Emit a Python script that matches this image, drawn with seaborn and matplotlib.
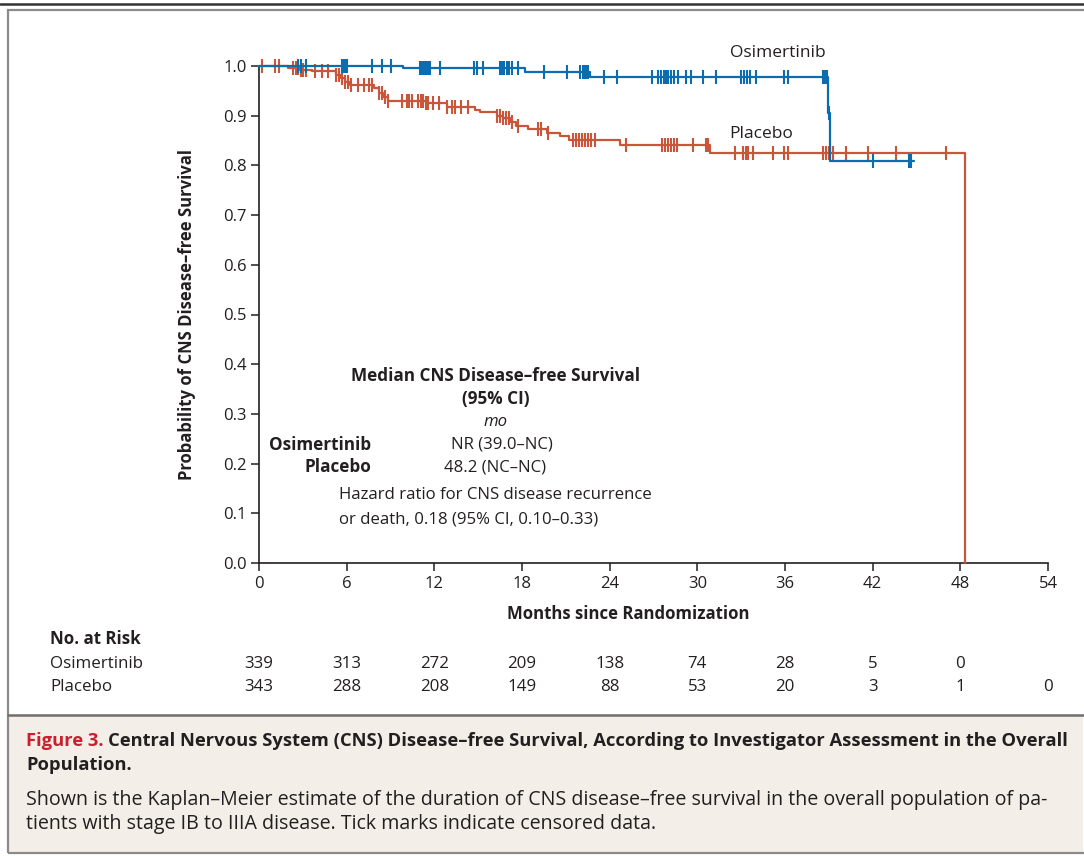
import numpy as np
import pandas as pd
import matplotlib
matplotlib.use("Agg")
import matplotlib.pyplot as plt
from matplotlib.patches import Rectangle
from matplotlib.lines import Line2D
import seaborn as sns

# ---------------- data ----------------
osi_times = [0, 9.85, 18.2, 22.65, 38.95, 39.05, 44.8]
osi_surv = [1.0, 0.996, 0.988, 0.978, 0.905, 0.809, 0.809]
osi_censor = [2.7, 2.9, 3.2, 5.7, 5.8, 5.85, 5.9, 6.0, 7.7, 8.4, 9.0, 11.0, 11.15, 11.3,
              11.45, 11.6, 11.7, 12.4, 14.7, 14.9, 15.3, 16.5, 16.65, 16.8, 16.95, 17.1,
              17.3, 17.7, 19.5, 21.1, 22.0, 22.15, 22.3, 22.45, 22.5, 23.6, 24.5, 26.9,
              27.3, 27.5, 27.7, 27.85, 28.0, 28.2, 28.4, 28.7, 29.2, 29.6, 30.4, 31.3,
              33.0, 33.2, 33.4, 33.6, 34.0, 35.9, 36.2, 38.6, 38.75, 38.9, 39.0, 42.0,
              44.5, 44.6]

pla_times = [0, 2.0, 2.8, 3.6, 5.3, 5.6, 5.9, 6.2, 7.9, 8.2, 8.5, 8.8, 11.4, 12.9, 14.8,
             15.1, 16.3, 16.7, 17.2, 17.6, 18.4, 19.7, 20.6, 21.2, 24.7, 30.9, 48.35]
pla_surv = [1.0, 0.995, 0.992, 0.989, 0.982, 0.975, 0.968, 0.962, 0.955, 0.946, 0.938,
            0.930, 0.925, 0.918, 0.911, 0.907, 0.900, 0.895, 0.888, 0.880, 0.873, 0.866,
            0.860, 0.851, 0.841, 0.824, 0.0]
pla_censor = [0.2, 1.1, 1.4, 2.3, 2.5, 2.7, 2.9, 3.0, 3.2, 3.8, 4.3, 4.7, 5.3, 5.5, 5.7,
              5.9, 6.1, 6.3, 6.8, 7.2, 7.5, 7.7, 8.2, 8.4, 8.6, 8.8, 9.8, 10.1, 10.3, 10.5,
              10.9, 11.1, 11.2, 11.4, 11.6, 11.9, 12.3, 12.9, 13.2, 13.4, 13.8, 14.3, 16.3,
              16.5, 16.7, 16.9, 17.1, 17.3, 17.7, 19.1, 19.3, 19.8, 21.5, 21.7, 21.9, 22.1,
              22.3, 22.5, 22.7, 23.0, 25.1, 27.6, 27.8, 28.0, 28.2, 28.4, 28.6, 29.7, 30.6,
              30.7, 32.6, 33.1, 33.3, 33.5, 33.8, 35.2, 35.9, 36.2, 38.6, 38.8, 39.0, 39.3,
              40.2, 41.7, 43.6, 47.0]

risk_months = [0, 6, 12, 18, 24, 30, 36, 42, 48, 54]
risk_osi = ["339", "313", "272", "209", "138", "74", "28", "5", "0", ""]
risk_pla = ["343", "288", "208", "149", "88", "53", "20", "3", "1", "0"]

x_ticks = [0, 6, 12, 18, 24, 30, 36, 42, 48, 54]
y_ticks = [0.0, 0.1, 0.2, 0.3, 0.4, 0.5, 0.6, 0.7, 0.8, 0.9, 1.0]

BLUE = "#0b6db0"
RED = "#c9553b"
TXT = "#231f20"

# ---------------- style ----------------
sns.set_theme(style="white")
plt.rcParams["font.family"] = ["Open Sans", "DejaVu Sans"]
plt.rcParams["text.color"] = TXT
plt.rcParams["axes.labelcolor"] = TXT
plt.rcParams["xtick.color"] = TXT
plt.rcParams["ytick.color"] = TXT

W, H = 1084, 856
fig = plt.figure(figsize=(W / 100, H / 100), dpi=100)


def fx(px):
    return px / W


def fy(py):
    return 1 - py / H


# frame and caption background
fig.patches.append(Rectangle((fx(8), fy(853)), fx(1083) - fx(8), fy(715) - fy(853),
                             transform=fig.transFigure, facecolor="#f3efe8",
                             edgecolor="none", zorder=0))
fig.patches.append(Rectangle((fx(8), fy(853)), fx(1090) - fx(8), fy(10) - fy(853),
                             transform=fig.transFigure, facecolor="none",
                             edgecolor="#8a8a8a", linewidth=1.6, zorder=1))
fig.lines.append(Line2D([fx(8), fx(1090)], [fy(715), fy(715)], transform=fig.transFigure,
                        color="#6e6e6e", linewidth=1.8))
fig.lines.append(Line2D([0, 1], [fy(4), fy(4)], transform=fig.transFigure,
                        color="#333333", linewidth=1.8))

ax = fig.add_axes([fx(259), fy(563), fx(1048) - fx(259), fy(66) - fy(563)])
ax.set_facecolor("none")


def surv_at(times, surv, t):
    idx = np.searchsorted(np.asarray(times), t, side="right") - 1
    return np.asarray(surv)[idx]


osi_df = pd.DataFrame({"t": osi_times, "s": osi_surv})
pla_df = pd.DataFrame({"t": pla_times, "s": pla_surv})
osi_c = pd.DataFrame({"t": osi_censor, "s": surv_at(osi_times, osi_surv, osi_censor)})
pla_c = pd.DataFrame({"t": pla_censor, "s": surv_at(pla_times, pla_surv, pla_censor)})

sns.lineplot(data=pla_df, x="t", y="s", drawstyle="steps-post", color=RED, lw=1.6,
             ax=ax, clip_on=False, zorder=3)
sns.scatterplot(data=pla_c, x="t", y="s", marker="|", s=110, linewidth=1.5, color=RED,
                ax=ax, clip_on=False, zorder=3)
sns.lineplot(data=osi_df, x="t", y="s", drawstyle="steps-post", color=BLUE, lw=1.6,
             ax=ax, clip_on=False, zorder=4)
sns.scatterplot(data=osi_c, x="t", y="s", marker="|", s=110, linewidth=1.5, color=BLUE,
                ax=ax, clip_on=False, zorder=4)

ax.set_xlim(0, 54)
ax.set_ylim(0, 1.0)
ax.set_xticks(x_ticks)
ax.set_xticklabels([str(v) for v in x_ticks])
ax.set_yticks(y_ticks)
ax.set_yticklabels([f"{v:.1f}" for v in y_ticks])
for s in ["top", "right"]:
    ax.spines[s].set_visible(False)
for s in ["left", "bottom"]:
    ax.spines[s].set_color(TXT)
    ax.spines[s].set_linewidth(1.2)
ax.tick_params(axis="both", which="major", direction="out", length=6, width=1.1,
               labelsize=12, pad=3, bottom=True, left=True, colors=TXT)
ax.set_xlabel("")
ax.set_ylabel("")

# axis labels
fig.text(fx(628), fy(614), "Months since Randomization", ha="center", va="center",
         fontsize=12.1, fontweight="bold")
fig.text(fx(187), fy(315), "Probability of CNS Disease\u2013free Survival", ha="center",
         va="center", rotation=90, fontsize=12, fontweight="bold")

# curve labels
fig.text(fx(778), fy(53), "Osimertinib", ha="center", va="center", fontsize=12.5)
fig.text(fx(761), fy(134), "Placebo", ha="center", va="center", fontsize=12.5)

# annotation block
AB = 12.3
AR = 12.1
fig.text(fx(496), fy(376), "Median CNS Disease\u2013free Survival", ha="center", va="center",
         fontsize=AB, fontweight="bold")
fig.text(fx(496), fy(399), "(95% CI)", ha="center", va="center", fontsize=AB,
         fontweight="bold")
fig.text(fx(496), fy(422), "mo", ha="center", va="center", fontsize=AR, style="italic")
fig.text(fx(371), fy(445), "Osimertinib", ha="right", va="center", fontsize=AB,
         fontweight="bold")
fig.text(fx(371), fy(467), "Placebo", ha="right", va="center", fontsize=AB,
         fontweight="bold")
fig.text(fx(451), fy(445), "NR (39.0\u2013NC)", ha="left", va="center", fontsize=AR)
fig.text(fx(444), fy(467), "48.2 (NC\u2013NC)", ha="left", va="center", fontsize=AR)
fig.text(fx(339), fy(495), "Hazard ratio for CNS disease recurrence", ha="left",
         va="center", fontsize=AR)
fig.text(fx(339), fy(519), "or death, 0.18 (95% CI, 0.10\u20130.33)", ha="left",
         va="center", fontsize=AR)

# risk table
fig.text(fx(50), fy(639), "No. at Risk", ha="left", va="center", fontsize=12.2,
         fontweight="bold")
fig.text(fx(50), fy(664), "Osimertinib", ha="left", va="center", fontsize=12.2)
fig.text(fx(50), fy(687), "Placebo", ha="left", va="center", fontsize=12.2)
for m, a, b in zip(risk_months, risk_osi, risk_pla):
    xf = fig.transFigure.inverted().transform(ax.transData.transform((m, 0)))[0]
    if a:
        fig.text(xf, fy(664), a, ha="center", va="center", fontsize=12.2)
    fig.text(xf, fy(687), b, ha="center", va="center", fontsize=12.2)

# caption
CB = 13.2
CR = 14.1
t1 = fig.text(fx(26), fy(741), "Figure 3. ", ha="left", va="center", fontsize=CB,
              fontweight="bold", color="#c8202f")
fig.canvas.draw()
bb = t1.get_window_extent(renderer=fig.canvas.get_renderer())
x_end = fig.transFigure.inverted().transform((bb.x1, 0))[0]
fig.text(x_end, fy(741),
         "Central Nervous System (CNS) Disease\u2013free Survival, According to Investigator "
         "Assessment in the Overall", ha="left", va="center", fontsize=CB, fontweight="bold")
fig.text(fx(26), fy(765), "Population.", ha="left", va="center", fontsize=CB,
         fontweight="bold")
fig.text(fx(26), fy(800),
         "Shown is the Kaplan\u2013Meier estimate of the duration of CNS disease\u2013free "
         "survival in the overall population of pa-", ha="left", va="center", fontsize=CR)
fig.text(fx(26), fy(824),
         "tients with stage IB to IIIA disease. Tick marks indicate censored data.",
         ha="left", va="center", fontsize=CR)

fig.savefig("out.png", dpi=100)
